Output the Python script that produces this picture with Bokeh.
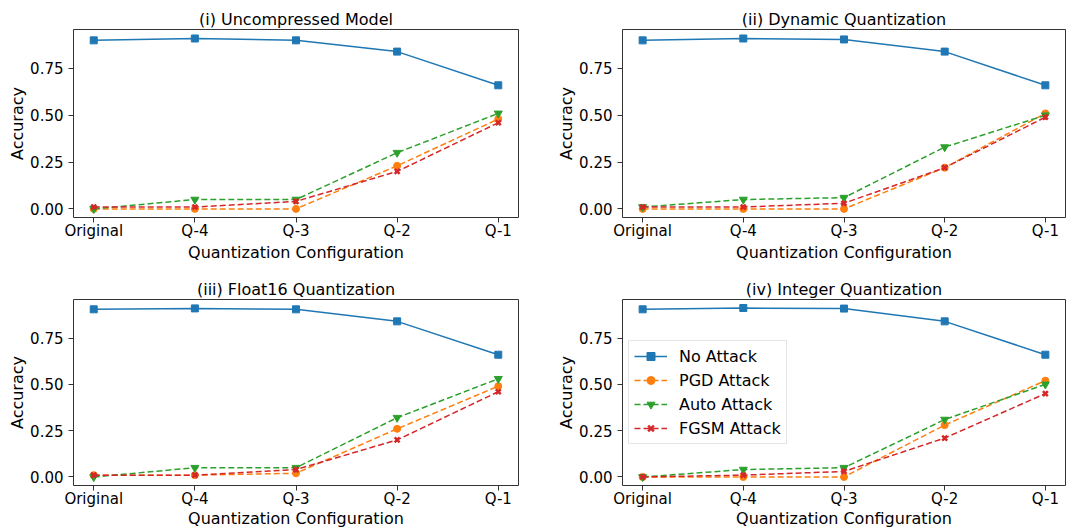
from bokeh.plotting import figure
from bokeh.layouts import column, row
from bokeh.models import Range1d, FixedTicker, Legend, LegendItem
from bokeh.embed import file_html
from bokeh.resources import INLINE

categories = ["Original", "Q-4", "Q-3", "Q-2", "Q-1"]
titles = ["(i) Uncompressed Model", "(ii) Dynamic Quantization",
          "(iii) Float16 Quantization", "(iv) Integer Quantization"]
series_names = ["No Attack", "PGD Attack", "Auto Attack", "FGSM Attack"]
x_label = "Quantization Configuration"
y_label = "Accuracy"

no_attack_i = [0.90, 0.91, 0.90, 0.84, 0.66]
pgd_i = [0.00, 0.00, 0.00, 0.23, 0.48]
auto_i = [0.00, 0.05, 0.05, 0.30, 0.51]
fgsm_i = [0.01, 0.01, 0.04, 0.20, 0.46]

no_attack_ii = [0.90, 0.91, 0.905, 0.84, 0.66]
pgd_ii = [0.00, 0.00, 0.00, 0.22, 0.51]
auto_ii = [0.01, 0.05, 0.06, 0.33, 0.50]
fgsm_ii = [0.01, 0.01, 0.03, 0.22, 0.49]

no_attack_iii = [0.905, 0.91, 0.905, 0.84, 0.66]
pgd_iii = [0.01, 0.01, 0.02, 0.26, 0.49]
auto_iii = [0.00, 0.05, 0.05, 0.32, 0.53]
fgsm_iii = [0.01, 0.01, 0.04, 0.20, 0.46]

no_attack_iv = [0.905, 0.912, 0.909, 0.84, 0.66]
pgd_iv = [0.00, 0.00, 0.00, 0.28, 0.52]
auto_iv = [0.00, 0.04, 0.05, 0.31, 0.50]
fgsm_iv = [0.00, 0.01, 0.03, 0.21, 0.45]

panels = [
    [no_attack_i, pgd_i, auto_i, fgsm_i],
    [no_attack_ii, pgd_ii, auto_ii, fgsm_ii],
    [no_attack_iii, pgd_iii, auto_iii, fgsm_iii],
    [no_attack_iv, pgd_iv, auto_iv, fgsm_iv],
]

colors = ["#1f77b4", "#ff7f0e", "#2ca02c", "#d62728"]
dashes = ["solid", "6 3", "6 3", "6 3"]
markers = ["square", "circle", "inverted_triangle", "x"]
msizes = [7, 7, 8, 7]
FONT = "DejaVu Sans"

# layout: (width, height, border_left, border_right, border_top, border_bottom, x-label standoff)
geo = [
    (546, 264, 73, 28, 29, 47, 0),
    (545, 264, 76, 26, 29, 47, 0),
    (546, 266, 73, 28, 35, 45, -2),
    (545, 266, 76, 26, 35, 45, -2),
]

xs = list(range(len(categories)))
figs = []
for k in range(4):
    w, h, bl, br, bt, bb, als = geo[k]
    p = figure(width=w, height=h, output_backend="svg", toolbar_location=None,
               x_range=Range1d(-0.2, 4.2), y_range=Range1d(-0.046, 0.958),
               min_border_left=bl, min_border_right=br,
               min_border_top=bt, min_border_bottom=bb,
               title=titles[k])
    p.title.align = "center"
    p.title.text_font = FONT
    p.title.text_font_size = "16px"
    p.title.text_font_style = "normal"
    p.title.text_color = "#000000"
    p.title.standoff = 2
    p.xgrid.visible = False
    p.ygrid.visible = False
    p.outline_line_color = "#333333"
    p.outline_line_width = 1
    p.background_fill_color = "white"
    p.border_fill_color = "white"

    p.xaxis.ticker = FixedTicker(ticks=xs)
    p.xaxis.major_label_overrides = {i: c for i, c in enumerate(categories)}
    p.yaxis.ticker = FixedTicker(ticks=[0.0, 0.25, 0.5, 0.75])
    p.yaxis.major_label_overrides = {0.0: "0.00", 0: "0.00", 0.25: "0.25", 0.5: "0.50", 0.75: "0.75"}
    p.xaxis.axis_label = x_label
    p.yaxis.axis_label = y_label
    for ax in (p.xaxis, p.yaxis):
        ax.axis_line_color = None
        ax.major_tick_line_color = "#333333"
        ax.major_tick_out = 5
        ax.major_tick_in = 0
        ax.minor_tick_line_color = None
        ax.major_label_text_font = FONT
        ax.major_label_text_font_size = "15px"
        ax.major_label_text_color = "#000000"
        ax.axis_label_text_font = FONT
        ax.axis_label_text_font_size = "16px"
        ax.axis_label_text_font_style = "normal"
        ax.axis_label_text_color = "#000000"
    p.xaxis.major_label_standoff = -1
    p.xaxis.axis_label_standoff = als
    p.yaxis.major_label_standoff = 5
    p.yaxis.axis_label_standoff = 0

    items = []
    for s in range(4):
        ys = panels[k][s]
        l = p.line(xs, ys, line_color=colors[s], line_width=1.5, line_dash=dashes[s])
        if markers[s] == "x":
            m = p.scatter(xs, ys, marker="x", size=msizes[s], line_color=colors[s],
                          line_width=2.5)
        else:
            m = p.scatter(xs, ys, marker=markers[s], size=msizes[s],
                          fill_color=colors[s], line_color=colors[s])
        items.append(LegendItem(label=series_names[s], renderers=[l, m]))
    if k == 3:
        leg = Legend(items=items, location=(6, 41))
        leg.label_text_font = FONT
        leg.label_text_font_size = "16px"
        leg.label_text_color = "#000000"
        leg.glyph_width = 33
        leg.glyph_height = 20
        leg.label_height = 20
        leg.label_standoff = 12
        leg.spacing = 4
        leg.padding = 5
        leg.margin = 0
        leg.border_line_color = "#cccccc"
        leg.border_line_width = 1
        leg.background_fill_alpha = 0.8
        p.add_layout(leg, "center")
    figs.append(p)

layout = column(row(figs[0], figs[1]), row(figs[2], figs[3]))
open("out.html", "w").write(file_html(layout, INLINE))
